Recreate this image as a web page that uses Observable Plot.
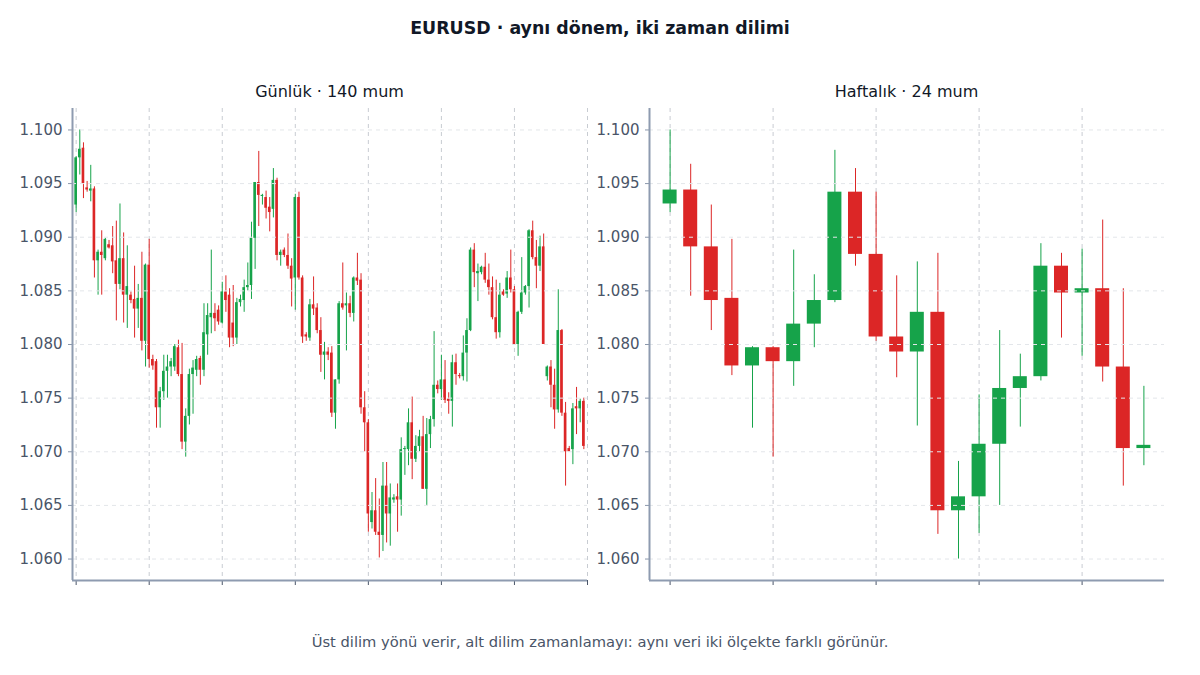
<!DOCTYPE html>
<html>
<head>
<meta charset="utf-8">
<script src="https://cdn.jsdelivr.net/npm/d3@7"></script>
<script src="https://cdn.jsdelivr.net/npm/@observablehq/plot@0.6"></script>
<style>
  html, body { margin: 0; padding: 0; background: #fff; }
  body { width: 1200px; height: 675px; position: relative; overflow: hidden; font-family: "DejaVu Sans", sans-serif; }
  #title { position: absolute; top: 18px; left: 0; width: 1200px; text-align: center; font-weight: bold; font-size: 17.4px; color: #111827; }
  .ptitle { position: absolute; top: 82px; width: 515px; text-align: center; font-size: 16px; color: #111827; }
  .panel { position: absolute; top: 100px; }
  #caption { position: absolute; top: 633px; left: 0; width: 1200px; text-align: center; font-size: 14.7px; color: #4a5568; }
</style>
</head>
<body>
<div id="title">EURUSD · aynı dönem, iki zaman dilimi</div>
<div class="ptitle" style="left:72px">Günlük · 140 mum</div>
<div class="ptitle" style="left:649px">Haftalık · 24 mum</div>
<div class="panel" id="p1" style="left:0px"></div>
<div class="panel" id="p2" style="left:577px"></div>
<div id="caption">Üst dilim yönü verir, alt dilim zamanlamayı: aynı veri iki ölçekte farklı görünür.</div>
<script>
// ---- Daily (140 candles) ----
const dailyOpen = [1.0930,1.0974,1.0983,1.0946,1.0943,1.0945,1.0878,1.0886,1.0880,1.0893,
1.0892,1.0878,1.0856,1.0880,1.0846,1.0846,1.0842,1.0833,1.0843,1.0803,
1.0874,1.0786,1.0784,1.0741,1.0756,1.0775,1.0779,1.0779,1.0797,1.0772,
1.0709,1.0733,1.0772,1.0776,1.0787,1.0776,1.0809,1.0825,1.0829,1.0832,
1.0820,1.0849,1.0846,1.0820,1.0806,1.0839,1.0841,1.0853,1.0855,1.0899,
1.0951,1.0938,1.0937,1.0928,1.0926,1.0953,1.0883,1.0888,1.0883,1.0873,
1.0862,1.0937,1.0862,1.0809,1.0806,1.0837,1.0834,1.0813,1.0790,1.0793,
1.0792,1.0736,1.0767,1.0838,1.0836,1.0838,1.0829,1.0862,1.0860,1.0741,
1.0727,1.0634,1.0645,1.0625,1.0622,1.0668,1.0642,1.0655,1.0658,1.0655,
1.0702,1.0702,1.0727,1.0693,1.0705,1.0714,1.0665,1.0716,1.0730,1.0762,
1.0758,1.0767,1.0749,1.0747,1.0783,1.0771,1.0770,1.0792,1.0813,1.0888,
1.0866,1.0867,1.0872,1.0860,1.0853,1.0825,1.0811,1.0849,1.0847,1.0862,
1.0851,1.0800,1.0830,1.0848,1.0854,1.0906,1.0881,1.0873,1.0891,1.0770,
1.0779,1.0762,1.0739,1.0813,1.0736,1.0703,1.0702,1.0742,1.0740,1.0747];
const dailyHigh = [1.0975,1.1000,1.0988,1.0952,1.0967,1.0947,1.0888,1.0906,1.0899,1.0897,
1.0910,1.0915,1.0931,1.0904,1.0892,1.0849,1.0873,1.0856,1.0886,1.0875,
1.0898,1.0790,1.0786,1.0760,1.0790,1.0790,1.0787,1.0800,1.0804,1.0801,
1.0740,1.0777,1.0785,1.0789,1.0789,1.0838,1.0838,1.0888,1.0838,1.0836,
1.0858,1.0864,1.0852,1.0855,1.0843,1.0846,1.0860,1.0876,1.0914,1.0951,
1.0980,1.0940,1.0943,1.0937,1.0964,1.0955,1.0888,1.0890,1.0903,1.0880,
1.0940,1.0942,1.0864,1.0811,1.0842,1.0863,1.0838,1.0825,1.0802,1.0797,
1.0798,1.0767,1.0840,1.0876,1.0848,1.0845,1.0863,1.0885,1.0866,1.0756,
1.0730,1.0662,1.0675,1.0656,1.0690,1.0690,1.0670,1.0660,1.0670,1.0713,
1.0705,1.0740,1.0751,1.0715,1.0720,1.0733,1.0731,1.0733,1.0812,1.0766,
1.0790,1.0785,1.0755,1.0790,1.0791,1.0773,1.0808,1.0824,1.0890,1.0894,
1.0875,1.0873,1.0885,1.0875,1.0863,1.0860,1.0857,1.0851,1.0868,1.0888,
1.0854,1.0831,1.0881,1.0855,1.0907,1.0915,1.0897,1.0901,1.0903,1.0780,
1.0785,1.0777,1.0851,1.0814,1.0746,1.0705,1.0745,1.0760,1.0749,1.0750];
const dailyLow = [1.0923,1.0958,1.0936,1.0942,1.0933,1.0862,1.0846,1.0846,1.0878,1.0889,
1.0866,1.0822,1.0851,1.0820,1.0815,1.0838,1.0806,1.0815,1.0794,1.0779,
1.0778,1.0776,1.0722,1.0722,1.0748,1.0750,1.0770,1.0775,1.0770,1.0702,
1.0695,1.0725,1.0735,1.0770,1.0762,1.0770,1.0790,1.0810,1.0812,1.0818,
1.0819,1.0830,1.0797,1.0798,1.0800,1.0835,1.0830,1.0850,1.0842,1.0870,
1.0910,1.0930,1.0917,1.0905,1.0918,1.0878,1.0873,1.0881,1.0870,1.0835,
1.0832,1.0860,1.0801,1.0803,1.0803,1.0827,1.0810,1.0774,1.0767,1.0785,
1.0732,1.0721,1.0763,1.0832,1.0794,1.0825,1.0821,1.0855,1.0735,1.0700,
1.0625,1.0628,1.0622,1.0601,1.0607,1.0615,1.0612,1.0652,1.0625,1.0640,
1.0678,1.0687,1.0674,1.0690,1.0700,1.0665,1.0650,1.0703,1.0723,1.0754,
1.0748,1.0745,1.0735,1.0723,1.0762,1.0768,1.0766,1.0765,1.0812,1.0853,
1.0840,1.0865,1.0857,1.0846,1.0823,1.0805,1.0806,1.0845,1.0843,1.0848,
1.0800,1.0789,1.0828,1.0846,1.0834,1.0879,1.0852,1.0868,1.0800,1.0766,
1.0741,1.0721,1.0736,1.0733,1.0668,1.0700,1.0688,1.0716,1.0727,1.0702];
const dailyClose = [1.0974,1.0982,1.0950,1.0944,1.0945,1.0878,1.0886,1.0883,1.0898,1.0890,
1.0877,1.0856,1.0880,1.0846,1.0854,1.0841,1.0833,1.0843,1.0803,1.0874,
1.0786,1.0780,1.0741,1.0756,1.0775,1.0779,1.0784,1.0798,1.0772,1.0709,
1.0733,1.0772,1.0778,1.0786,1.0776,1.0811,1.0827,1.0829,1.0824,1.0821,
1.0849,1.0841,1.0806,1.0806,1.0839,1.0842,1.0853,1.0855,1.0899,1.0951,
1.0939,1.0939,1.0927,1.0923,1.0953,1.0883,1.0886,1.0883,1.0873,1.0861,
1.0937,1.0862,1.0807,1.0807,1.0837,1.0833,1.0813,1.0790,1.0793,1.0790,
1.0736,1.0767,1.0838,1.0834,1.0838,1.0829,1.0862,1.0859,1.0741,1.0727,
1.0642,1.0645,1.0625,1.0622,1.0668,1.0642,1.0657,1.0657,1.0655,1.0702,
1.0703,1.0727,1.0693,1.0705,1.0714,1.0665,1.0716,1.0730,1.0762,1.0758,
1.0767,1.0748,1.0747,1.0783,1.0772,1.0770,1.0792,1.0813,1.0888,1.0867,
1.0868,1.0872,1.0860,1.0853,1.0825,1.0811,1.0846,1.0846,1.0862,1.0851,
1.0800,1.0830,1.0848,1.0854,1.0906,1.0881,1.0873,1.0891,1.0800,1.0779,
1.0762,1.0739,1.0813,1.0736,1.0700,1.0700,1.0740,1.0740,1.0747,1.0705];

// ---- Weekly (24 candles) ----
const weeklyOpen  = [1.0931,1.0944,1.0891,1.0843,1.0780,1.0797,1.0784,1.0819,1.0841,1.0942,1.0884,1.0807,
                     1.0793,1.0830,1.0645,1.0658,1.0707,1.0759,1.0770,1.0873,1.0848,1.0852,1.0779,1.0703];
const weeklyHigh  = [1.1000,1.0968,1.0930,1.0898,1.0798,1.0798,1.0888,1.0865,1.0981,1.0964,1.0942,1.0864,
                     1.0877,1.0885,1.0691,1.0753,1.0813,1.0791,1.0894,1.0885,1.0889,1.0916,1.0852,1.0761];
const weeklyLow   = [1.0923,1.0845,1.0813,1.0771,1.0722,1.0695,1.0761,1.0797,1.0839,1.0873,1.0803,1.0769,
                     1.0724,1.0623,1.0600,1.0624,1.0650,1.0723,1.0766,1.0806,1.0789,1.0765,1.0668,1.0687];
const weeklyClose = [1.0944,1.0891,1.0841,1.0780,1.0797,1.0784,1.0819,1.0841,1.0942,1.0884,1.0807,1.0793,
                     1.0830,1.0645,1.0658,1.0707,1.0759,1.0770,1.0873,1.0848,1.0852,1.0779,1.0703,1.0706];

const yTicks = [1.060,1.065,1.070,1.075,1.080,1.085,1.090,1.095,1.100];
const dailyXTicks = [0,20,40,60,80,100,120,140];
const weeklyXTicks = [0,5,10,15,20];

const UP = "#16a34a", DOWN = "#dc2626";

function toRows(o,h,l,c){ return o.map((v,i)=>({i, open:v, high:h[i], low:l[i], close:c[i], up: c[i] >= v})); }

function candlePlot(rows, xDomain, xTicks, half){
  return Plot.plot({
    width: 600, height: 500,
    marginTop: 8, marginBottom: 20, marginLeft: 72, marginRight: 13,
    style: {background: "transparent", fontFamily: "DejaVu Sans, sans-serif", fontSize: "15px", color: "#4a5568", overflow: "visible"},
    x: {domain: xDomain, label: null},
    y: {domain: [1.058, 1.102], label: null},
    marks: [
      Plot.gridX(xTicks, {stroke: "#c8ccd2", strokeOpacity: 1, strokeDasharray: "4,4"}),
      Plot.ruleX(rows, {x: "i", y1: "low", y2: "high", stroke: d => d.up ? UP : DOWN, strokeWidth: 1}),
      Plot.rect(rows, {x1: d => d.i - half, x2: d => d.i + half, y1: "open", y2: "close", fill: d => d.up ? UP : DOWN}),
      Plot.gridY(yTicks, {stroke: "#e3e6ea", strokeOpacity: 1, strokeDasharray: "4,4"}),
      Plot.axisY(yTicks, {tickSize: 4, tickPadding: 6, tickFormat: d3.format(".3f"), stroke: "#8a97ab", fill: "#4a5568", label: null}),
      Plot.axisX(xTicks, {tickSize: 5, tickFormat: () => "", stroke: "#4a5568", label: null}),
      Plot.ruleX([xDomain[0]], {stroke: "#8e9bb0", strokeWidth: 2}),
      Plot.ruleY([1.058], {stroke: "#8e9bb0", strokeWidth: 2})
    ]
  });
}

document.getElementById("p1").append(candlePlot(toRows(dailyOpen,dailyHigh,dailyLow,dailyClose), [-1,140], dailyXTicks, 0.36));
document.getElementById("p2").append(candlePlot(toRows(weeklyOpen,weeklyHigh,weeklyLow,weeklyClose), [-1,24], weeklyXTicks, 0.34));
</script>
</body>
</html>
